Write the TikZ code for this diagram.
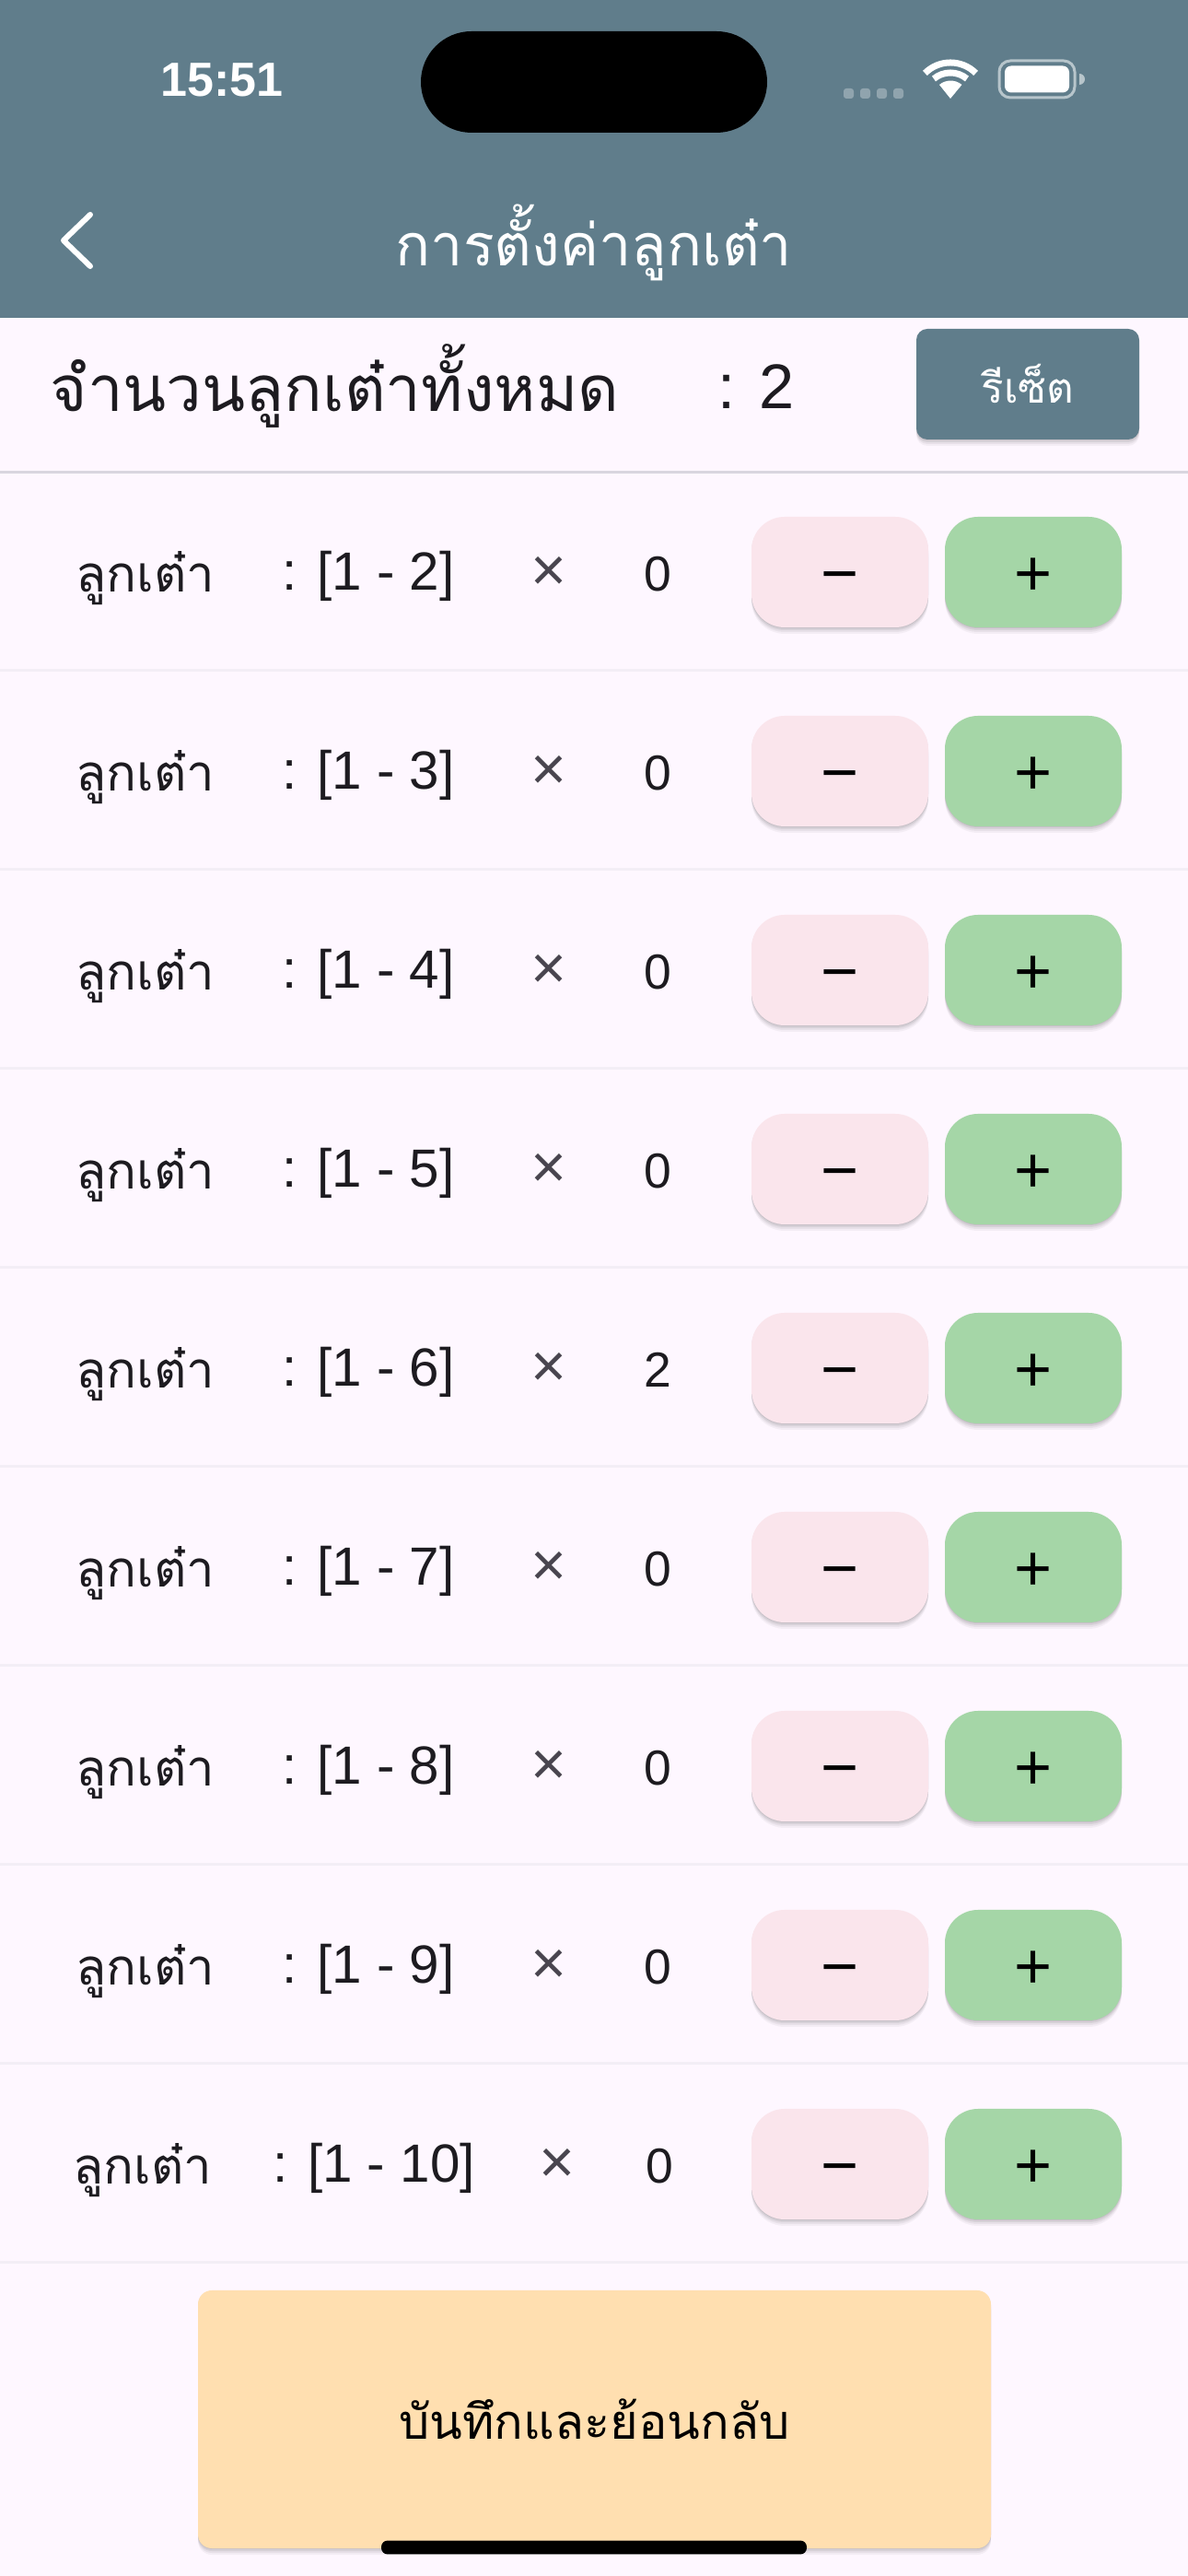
\documentclass[tikz,border=0pt]{standalone}
\usepackage{fontspec}
\setmainfont{Liberation Sans}
\newfontfamily\thaifont[Script=Thai]{Loma}
\usetikzlibrary{shadows}
\definecolor{barcol}{HTML}{607D8B}
\definecolor{pagecol}{HTML}{FEF7FF}
\definecolor{inkcol}{HTML}{1D1B20}
\definecolor{greycol}{HTML}{49454F}
\definecolor{minuscol}{HTML}{FAE5EC}
\definecolor{pluscol}{HTML}{A5D6A7}
\definecolor{savecol}{HTML}{FFDFB0}
\definecolor{linecol}{HTML}{F3EEF6}
\definecolor{topline}{HTML}{D9D5DF}
\tikzset{
  softshadow/.style={
    general shadow={shadow xshift=0cm, shadow yshift=-0.07cm, opacity=0.04, fill=black},
    general shadow={shadow xshift=0cm, shadow yshift=-0.05cm, opacity=0.05, fill=black},
    general shadow={shadow xshift=0cm, shadow yshift=-0.03cm, opacity=0.07, fill=black},
    general shadow={shadow xshift=0cm, shadow yshift=-0.01cm, opacity=0.08, fill=black}},
  stepbtn/.style={rounded corners=0.36cm, minimum width=1.92cm, minimum height=1.2cm, inner sep=0, softshadow},
  rowtext/.style={text=inkcol, inner sep=0, font=\fontsize{15.2}{17}\selectfont},
  signs/.style={inner sep=0, text height=0.52cm, text depth=0cm, font=\fontsize{20}{22}\selectfont},
}
\begin{document}
\begin{tikzpicture}[line cap=round, line join=round]
\useasboundingbox (0,0) rectangle (12.9,27.96);
\fill[pagecol] (0,0) rectangle (12.9,27.96);
\fill[barcol] (0,24.51) rectangle (12.9,27.96);

% status bar
\node[fill=black, rounded corners=0.55cm, minimum width=3.76cm, minimum height=1.1cm, inner sep=0] (island) at (6.45,27.07) {};
\node[text=white, inner sep=0, font=\fontsize{14.8}{17}\selectfont\bfseries] (clock) at (2.41,27.09) {15:51};
\foreach \x in {9.22,9.40,9.58,9.76}
  \fill[white, opacity=0.3, rounded corners=0.03cm] (\x-0.06,26.89) rectangle (\x+0.05,27.0);
\fill[white] (10.32,26.89) -- (10.2,27.04) arc[start angle=130, end angle=50, radius=0.19] -- cycle;
\draw[white, line width=0.07cm, line cap=butt] (10.32,26.89) ++(130:0.28) arc[start angle=130, end angle=50, radius=0.28];
\draw[white, line width=0.07cm, line cap=butt] (10.32,26.89) ++(135:0.39) arc[start angle=135, end angle=45, radius=0.39];
\node[draw=white!55!barcol, line width=0.03cm, rounded corners=0.12cm, minimum width=0.82cm, minimum height=0.4cm, inner sep=0] (battery) at (11.26,27.10) {};
\node[fill=white, rounded corners=0.07cm, minimum width=0.7cm, minimum height=0.29cm, inner sep=0] (charge) at (11.26,27.10) {};
\fill[white!55!barcol] (11.72,27.16) -- (11.72,27.04) arc[start angle=-90, end angle=90, radius=0.06] -- cycle;

% app bar
\coordinate (backtop) at (0.98,25.63);
\coordinate (backmid) at (0.69,25.35);
\coordinate (backlow) at (0.98,25.07);
\draw[white, line width=0.06cm] (backtop) -- (backmid) -- (backlow);
\node[text=white, inner sep=0, font=\fontsize{17.9}{20}\selectfont\thaifont] (title) at (6.45,25.33) {การตั้งค่าลูกเต๋า};

% total row
\node[text=inkcol, inner sep=0, anchor=west, font=\fontsize{19.6}{22}\selectfont\thaifont] (total) at (0.54,23.77) {จำนวนลูกเต๋าทั้งหมด};
\node[text=inkcol, inner sep=0, font=\fontsize{19.5}{22}\selectfont] (totalnum) at (8.21,23.76) {: 2};
\node[fill=barcol, text=white, rounded corners=0.12cm, minimum width=2.42cm, minimum height=1.2cm, inner sep=0, softshadow, font=\fontsize{13}{15}\selectfont\thaifont] (reset) at (11.16,23.79) {รีเซ็ต};
\draw[topline, line width=0.03cm, line cap=butt] (0,22.83) -- (12.9,22.83);

% dice rows
\foreach \n/\y/\c/\lx/\rx/\tx/\cx in {
  2/21.75/0/1.58/4.00/5.96/7.14,
  3/19.59/0/1.58/4.00/5.96/7.14,
  4/17.43/0/1.58/4.00/5.96/7.14,
  5/15.27/0/1.58/4.00/5.96/7.14,
  6/13.11/2/1.58/4.00/5.96/7.14,
  7/10.95/0/1.58/4.00/5.96/7.14,
  8/8.79/0/1.58/4.00/5.96/7.14,
  9/6.63/0/1.58/4.00/5.96/7.14,
  10/4.47/0/1.55/4.06/6.05/7.16} {
  \node[rowtext, font=\fontsize{15.5}{17}\selectfont\thaifont] (dice\n) at (\lx,\y-0.07) {ลูกเต๋า};
  \node[rowtext, font=\fontsize{16.6}{19}\selectfont] (range\n) at (\rx,\y-0.04) {: [1 - \n]};
  \node[rowtext, text=greycol, font=\fontsize{19}{22}\selectfont] (times\n) at (\tx,\y-0.02) {×};
  \node[rowtext] (count\n) at (\cx,\y-0.02) {\c};
  \node[stepbtn, fill=minuscol, signs] (minus\n) at (9.12,\y) {−};
  \node[stepbtn, fill=pluscol, signs] (plus\n) at (11.22,\y) {+};
  \draw[linecol, line width=0.03cm, line cap=butt] (0,\y-1.07) -- (12.9,\y-1.07);
}

% save button
\node[fill=savecol, text=black, rounded corners=0.15cm, minimum width=8.61cm, minimum height=2.8cm, inner sep=0, softshadow, font=\fontsize{14.9}{18}\selectfont\thaifont] (save) at (6.455,1.70) {บันทึกและย้อนกลับ};
\node[fill=black, rounded corners=0.07cm, minimum width=4.62cm, minimum height=0.15cm, inner sep=0] (homebar) at (6.45,0.31) {};

\end{tikzpicture}
\end{document}
